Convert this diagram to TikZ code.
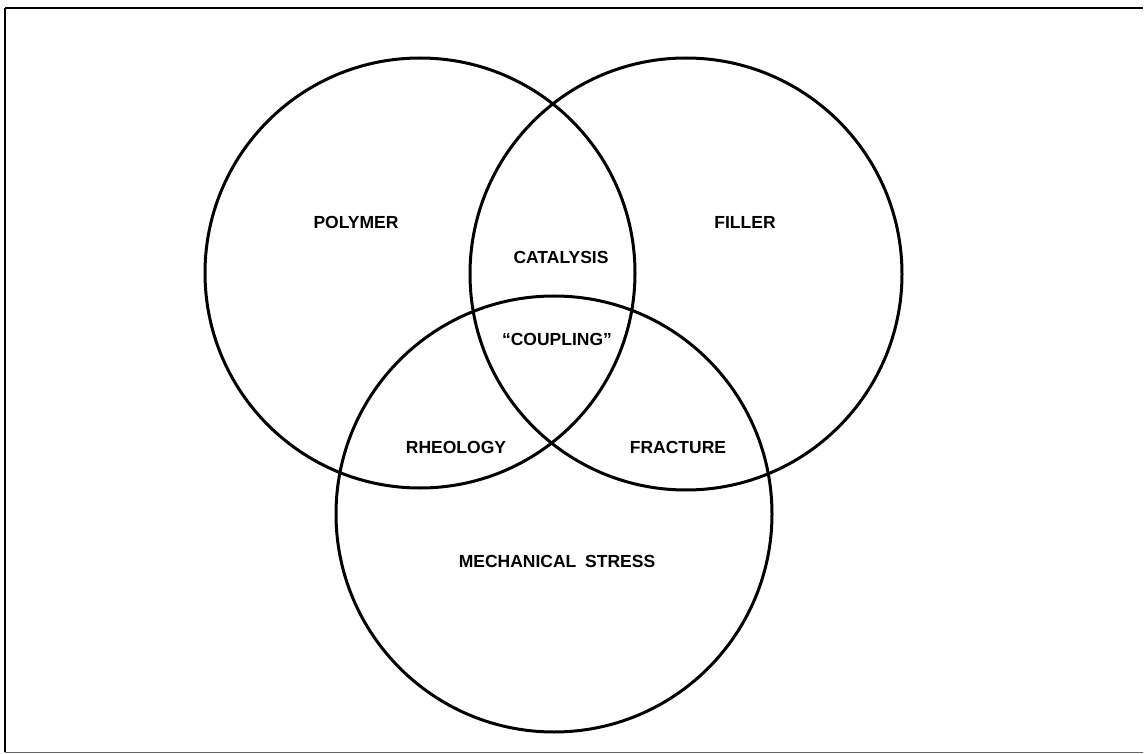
\documentclass[tikz,border=0pt]{standalone}
\usepackage{fontspec}
\setmainfont{Liberation Sans}
\begin{document}
\begin{tikzpicture}[x=1pt,y=-1pt,
  setring/.style={circle, draw=black, line width=3pt, minimum size=#1, inner sep=0pt},
  lbl/.style={font=\fontsize{17.5}{19}\selectfont\bfseries, inner sep=0pt}]
\useasboundingbox (0,0) rectangle (1144,754);
\draw[line width=1.8pt] (5,8) -- (1143,8);
\draw[line width=1.8pt] (5,8) -- (5,752);
\draw[line width=0.8pt, black!60] (5,752) -- (1143,752);
\node[setring=430pt] (polymer) at (420,273) {};
\node[setring=432pt] (filler) at (686,274) {};
\node[setring=436pt] (mech) at (554,514) {};
\node[lbl] (tpoly) at (356,222) {POLYMER};
\node[lbl] (tfill) at (745,222) {FILLER};
\node[lbl] (tcat) at (561,257) {CATALYSIS};
\node[lbl] (tcoup) at (557,339) {``COUPLING''};
\node[lbl] (trheo) at (456,447) {RHEOLOGY};
\node[lbl] (tfrac) at (678,447) {FRACTURE};
\node[lbl] (tmech) at (557,561) {MECHANICAL\hspace{0.5em}STRESS};
\end{tikzpicture}
\end{document}
